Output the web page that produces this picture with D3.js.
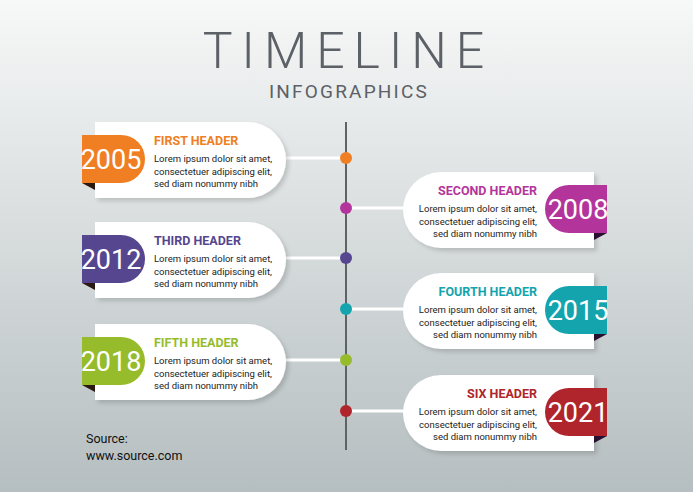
<!DOCTYPE html><html><head><meta charset="utf-8">
<script src="https://cdn.jsdelivr.net/npm/d3@7"></script>
<style>body{margin:0}svg{display:block}text{font-family:Roboto,sans-serif}</style></head><body>
<script>
const years=["2005","2008","2012","2015","2018","2021"];
const headers=["FIRST HEADER","SECOND HEADER","THIRD HEADER","FOURTH HEADER","FIFTH HEADER","SIX HEADER"];
const colors=["#f07e22","#b3359b","#55468f","#13a4ae","#96bc2c","#b0242b"];
const dotY=[158,208,258,309,360,411];
const body=["Lorem ipsum dolor sit amet,","consectetuer adipiscing elit,","sed diam nonummy nibh"];
const W=693,H=492;
const svg=d3.select("body").append("svg").attr("width",W).attr("height",H);
const defs=svg.append("defs");
const g=defs.append("linearGradient").attr("id","bg").attr("x1",0).attr("y1",0).attr("x2",0).attr("y2",1);
g.append("stop").attr("offset",0).attr("stop-color","#f7f8f8");
g.append("stop").attr("offset",1).attr("stop-color","#b5bec0");
svg.append("rect").attr("width",W).attr("height",H).attr("fill","url(#bg)");
const f=defs.append("filter").attr("id","sh").attr("x","-10%").attr("y","-10%").attr("width","130%").attr("height","140%");
f.append("feDropShadow").attr("dx",3).attr("dy",3).attr("stdDeviation",2).attr("flood-color","#000").attr("flood-opacity",0.15);
svg.append("text").attr("x",348).attr("y",68).attr("text-anchor","middle").attr("font-size",50).attr("font-weight",300).attr("letter-spacing",9).attr("fill","#5b6166").text("TIMELINE");
svg.append("text").attr("x",349).attr("y",98).attr("text-anchor","middle").attr("font-size",19).attr("letter-spacing",2.2).attr("fill","#5b6166").text("INFOGRAPHICS");
svg.append("line").attr("x1",346).attr("x2",346).attr("y1",122).attr("y2",450).attr("stroke","#5f6366").attr("stroke-width",2);
const idx=d3.range(years.length);
idx.forEach(i=>{
  const y=dotY[i],left=i%2===0,c=colors[i];
  const top=y-36,h=76,r=38;
  // connector
  svg.append("line").attr("x1",left?280:346).attr("x2",left?346:410).attr("y1",y).attr("y2",y).attr("stroke","#fff").attr("stroke-width",3);
  let card;
  if(left){const x0=95,x1=286;card=`M${x0},${top}H${x1-r}A${r},${r} 0 0 1 ${x1-r},${top+h}H${x0}Z`;}
  else{const x0=403,x1=594;card=`M${x1},${top}H${x0+r}A${r},${r} 0 0 0 ${x0+r},${top+h}H${x1}Z`;}
  svg.append("path").attr("d",card).attr("fill","#fff").attr("filter","url(#sh)");
  const ty=top+13,th=48,tr=24;
  if(left){
    svg.append("path").attr("d",`M82,${ty+th}L95,${ty+th}L95,${ty+th+7}Z`).attr("fill","#2a1a12");
    svg.append("path").attr("d",`M82,${ty}H${145-tr}A${tr},${tr} 0 0 1 ${145-tr},${ty+th}H82Z`).attr("fill",c);
    svg.append("text").attr("x",111).attr("y",ty+th/2+10).attr("text-anchor","middle").attr("font-size",27).attr("font-family","'Liberation Sans Narrow','Roboto Condensed',sans-serif").attr("fill","#fff").text(years[i]);
  } else {
    svg.append("path").attr("d",`M607,${ty+th}L594,${ty+th}L594,${ty+th+7}Z`).attr("fill","#2a1030");
    svg.append("path").attr("d",`M607,${ty}H${545+tr}A${tr},${tr} 0 0 0 ${545+tr},${ty+th}H607Z`).attr("fill",c);
    svg.append("text").attr("x",578).attr("y",ty+th/2+10).attr("text-anchor","middle").attr("font-size",27).attr("font-family","'Liberation Sans Narrow','Roboto Condensed',sans-serif").attr("fill","#fff").text(years[i]);
  }
  const tx=left?154:537,anc=left?"start":"end";
  svg.append("text").attr("x",tx).attr("y",top+23).attr("text-anchor",anc).attr("font-size",12.5).attr("font-weight",700).attr("fill",c).text(headers[i]);
  body.forEach((b,k)=>svg.append("text").attr("x",tx).attr("y",top+40+k*12.5).attr("text-anchor",anc).attr("font-size",9.5).attr("fill","#222").text(b));
  svg.append("circle").attr("cx",346).attr("cy",y).attr("r",6).attr("fill",c);
});
svg.append("text").attr("x",86).attr("y",443).attr("font-size",12.5).attr("fill","#111").text("Source:");
svg.append("text").attr("x",86).attr("y",460).attr("font-size",12.5).attr("fill","#111").text("www.source.com");
</script></body></html>
